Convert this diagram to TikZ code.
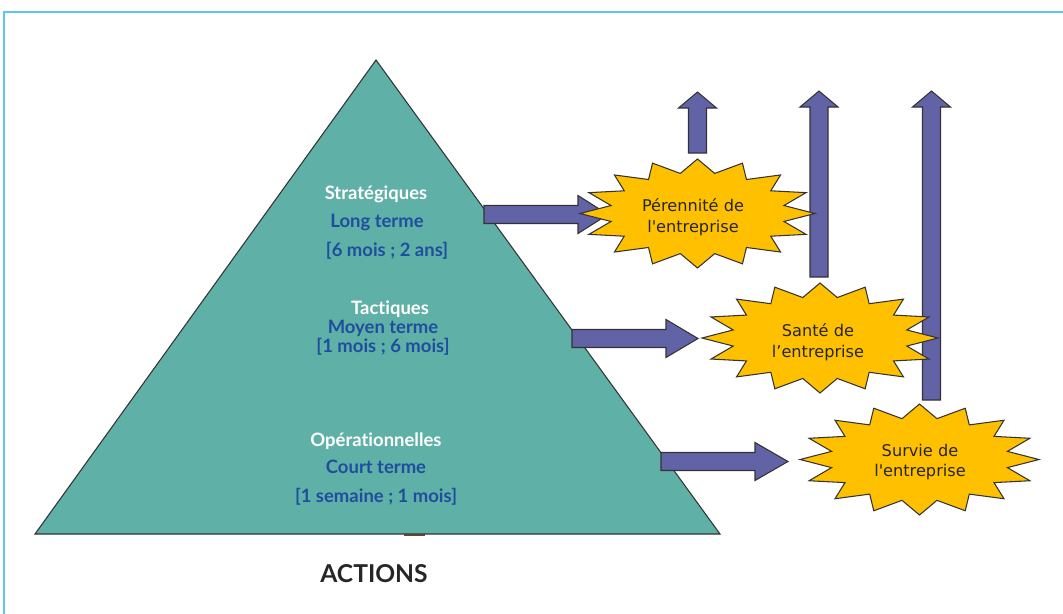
\documentclass[tikz,border=0pt]{standalone}
\usepackage{fontspec}
\setmainfont{Lato}[Ligatures={TeX,NoCommon}]
\newfontfamily\burstfont{DejaVu Sans}
\usetikzlibrary{calc}
\definecolor{pyrteal}{HTML}{5FB0A6}
\definecolor{arrowblue}{HTML}{6163A6}
\definecolor{burstyellow}{HTML}{FFC000}
\definecolor{termblue}{HTML}{1F4E9F}
\definecolor{framecyan}{HTML}{5BC8F2}
\definecolor{brownmark}{HTML}{5A4A2A}
\tikzset{
	outline/.style={draw=black!80, line width=0.6pt, line join=miter},
	blockarrow/.style={outline, fill=arrowblue},
	burst/.style={outline, fill=burstyellow},
	level/.style={font=\bfseries\fontsize{10.5}{12}\selectfont, text=white, anchor=base},
	term/.style={level, text=termblue},
	burstlabel/.style={font=\burstfont\fontsize{9.2}{11.9}\selectfont, align=center, text=black!85}
}
% block arrow: (start)(angle:length:head length)
\def\blockarrow(#1)(#2:#3:#4){\draw[blockarrow, shift={(#1)}, rotate=#2] (0,-9) -- (#3-#4,-9) -- (#3-#4,-19) -- (#3,0) -- (#3-#4,19) -- (#3-#4,9) -- (0,9) -- cycle;}
% 16 point burst: (centre)(x radius/y radius)
\def\burst(#1)(#2/#3){\draw[burst, shift={(#1)}, xscale=#2, yscale=#3] (0:1) \foreach \k in {1,...,16}{ -- (\k*22.5-11.25:0.75) -- (\k*22.5:1)} -- cycle;}

\begin{document}
\begin{tikzpicture}[x=0.2mm, y=-0.2mm]
			%%%%% START %%%%%
			\useasboundingbox (0,0) rectangle (1063,614);
			
			\draw[framecyan, line width=0.8pt] (4,614) -- (4,12) -- (1063,12);
			
			\coordinate (apex) at (376,60);
			\coordinate (baseleft) at (35,534);
			\coordinate (baseright) at (720,534);
			\draw[outline, fill=pyrteal] (apex) -- (baseright) -- (baseleft) -- cycle;
			\draw[brownmark, line width=1.4pt] (404,535) -- (425,535);
			
			\node[level] (strat) at (376,199) {Stratégiques};
			\node[term] (stratterm) at (377,227) {Long terme};
			\node[term] (stratspan) at (387,256) {[6 mois ; 2 ans]};
			
			\node[level] (tact) at (390,314) {Tactiques};
			\node[term] (tactterm) at (383,333) {Moyen terme};
			\node[term] (tactspan) at (383,352) {[1 mois ; 6 mois]};
			
			\node[level] (oper) at (376,446) {Opérationnelles};
			\node[term] (operterm) at (376,473) {Court terme};
			\node[term] (operspan) at (376,502) {[1 semaine ; 1 mois]};
			
			\blockarrow(484,214.5)(0:124:30)
			\blockarrow(572,338.5)(0:126:32)
			\blockarrow(661,461.5)(0:127:33)
			
			\blockarrow(697.5,153)(90:61:16)
			\blockarrow(819,277)(90:186:16)
			\blockarrow(931.5,400)(90:309:16)
			
			\burst(697.5,213.5)(117.5/54.5)
			\burst(820,338)(118/55)
			\burst(919.5,459.5)(119.5/55.5)
			
			\node[burstlabel] (perennite) at (693,217) {Pérennité de\\l\textquotesingle entreprise};
			\node[burstlabel] (sante) at (818,342) {Santé de\\l’entreprise};
			\node[burstlabel] (survie) at (920,462) {Survie de\\l\textquotesingle entreprise};
			
			\node[font=\bfseries\fontsize{14}{16}\selectfont, text=black!85, anchor=base] (actions) at (374,582) {ACTIONS};
			
			%%%%% END %%%%%
\end{tikzpicture}
\end{document}
